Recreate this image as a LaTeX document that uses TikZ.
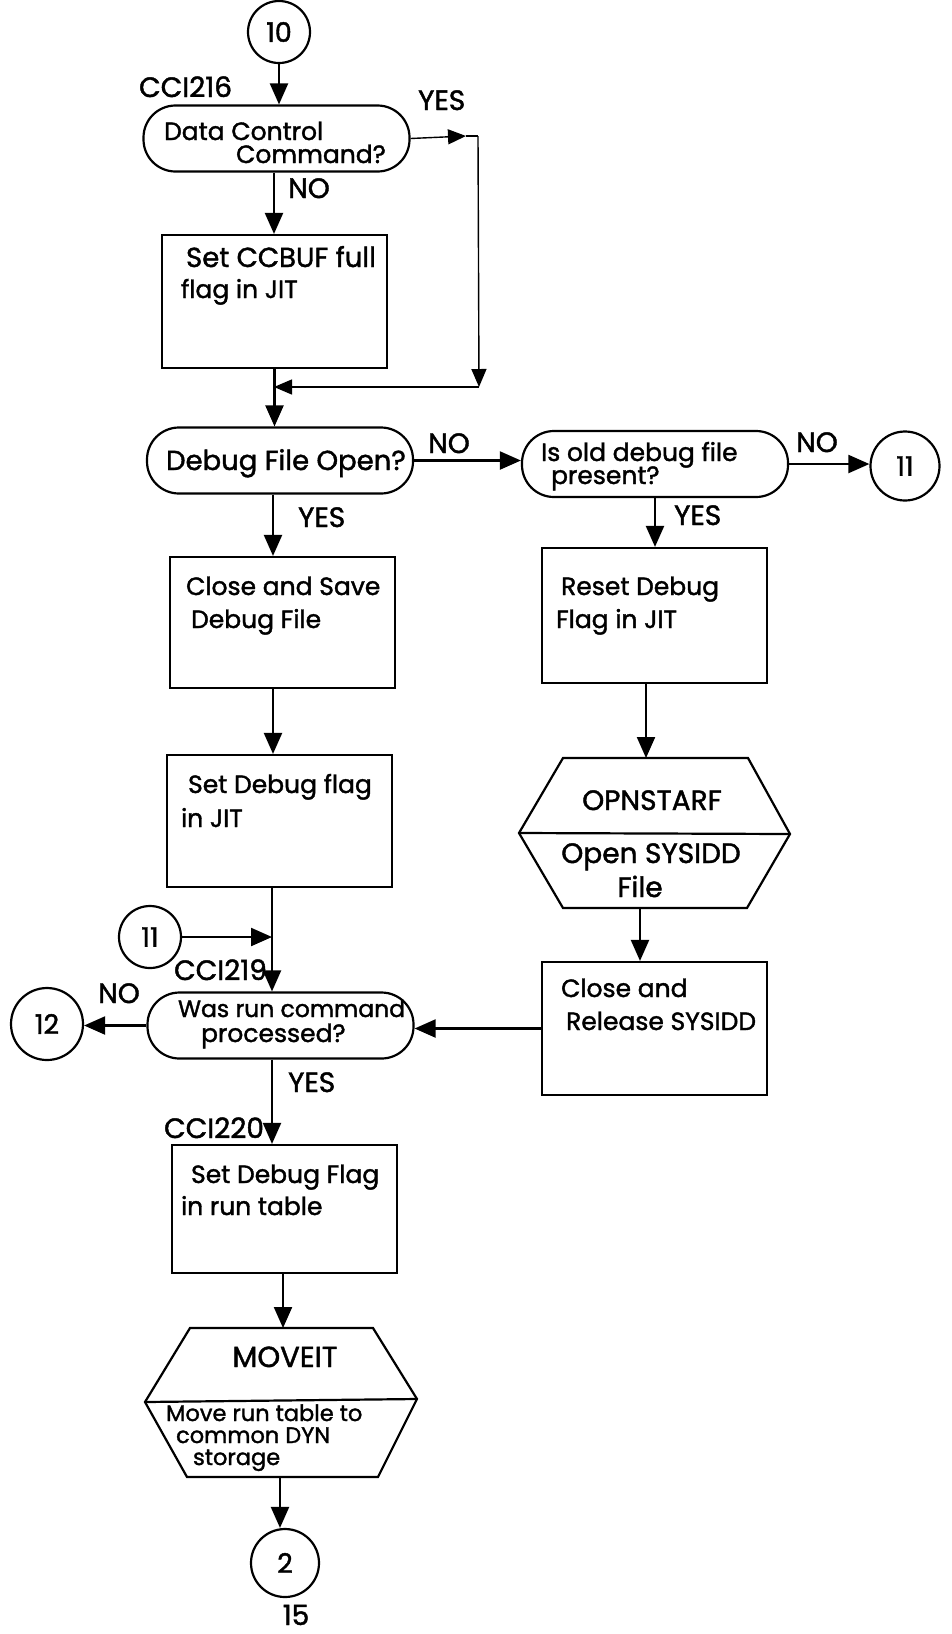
\documentclass[tikz,border=0pt]{standalone}
\usepackage{fontspec}
\setmainfont{Poppins}[FakeBold=1.5]
\usetikzlibrary{arrows.meta}
\begin{document}
\begin{tikzpicture}[x=1pt,y=-1pt,
  line width=2.2pt,
  arr/.style={-{Triangle[length=21pt,width=18pt]}},
  thin arr/.style={line width=1.4pt,-{Triangle[length=18pt,width=15pt]}},
  txt/.style={inner sep=0pt, anchor=base west, font=\fontsize{25}{28}\selectfont},
  big/.style={font=\fontsize{28}{30}\selectfont},
  smalltxt/.style={inner sep=0pt, anchor=base west, font=\fontsize{22.5}{25}\selectfont},
  ctxt/.style={inner sep=0pt, anchor=base, font=\fontsize{28}{30}\selectfont},
  proc/.style={draw, rectangle, minimum width=225pt, inner sep=0pt},
  dec/.style={draw, rounded corners=32pt, minimum width=266pt, minimum height=66pt, inner sep=0pt},
  conn/.style={draw, circle, inner sep=0pt, font=\fontsize{27}{30}\selectfont},
  hexline/.style={line width=2.2pt, line join=miter},
]
\useasboundingbox (0,0) rectangle (951,1634);

% ---------- top ----------
\node[conn, minimum size=62pt] (c10) at (279,32) {10};
\node[txt, big] (cci216) at (138,97) {CCI216};
\node[dec] (d1) at (276.5,138.5) {};
\node[txt] (d1a) at (163,140) {Data Control};
\node[txt] (d1b) at (235,163) {Command?};
\node[txt, big] (yes1) at (417,110) {YES};
\node[txt, big] (no1) at (287,198) {NO};

\node[proc, minimum height=133pt] (b1) at (274.5,301.5) {};
\node[txt, font=\fontsize{27.5}{30}\selectfont] (b1a) at (185,267) {Set CCBUF full};
\node[txt] (b1b) at (180,298) {flag in JIT};

\coordinate (yt) at (466,136);
\coordinate (yc) at (478,136);
\coordinate (mc) at (479,387);
\coordinate (mg) at (274,387);
\coordinate (colL) at (273,0);
\coordinate (j11) at (272,937);
\coordinate (colB) at (283,0);
\coordinate (colC) at (280,0);

\draw[arr] (c10.south) -- (c10.south |- d1.north);
\draw[arr] (d1.south -| mg) -- (b1.north -| mg);
\draw[thin arr] (d1.east) -- (yt);
\draw[line width=1.4pt] (yt) -- (yc);
\draw[thin arr] (yc) -- (mc);
\draw[thin arr] (mc) -- (mg);

% ---------- second row ----------
\node[dec] (d2) at (280,460.5) {};
\node[txt, font=\fontsize{27.5}{30}\selectfont] (d2a) at (165,470) {Debug File Open?};
\node[txt, big] (no2) at (427,453) {NO};
\node[txt, big] (yes2) at (297,527) {YES};
\draw[arr] (b1.south) -- (b1.south |- d2.north);

\node[dec] (dR) at (655,464) {};
\node[txt] (dRa) at (540,461) {Is old debug file};
\node[txt] (dRb) at (550,484) {present?};
\node[txt, big] (no3) at (795,452) {NO};
\node[txt, big] (yes3) at (673,525) {YES};
\node[conn, minimum size=69pt] (c11R) at (905,466) {11};

\draw[arr] (d2.east) -- (d2.east -| dR.west);
\draw[arr] (dR.east) -- (dR.east -| c11R.west);

% ---------- left column ----------
\node[proc, minimum height=131pt] (b2) at (282.5,622.5) {};
\node[txt] (b2a) at (185,595) {Close and Save};
\node[txt] (b2b) at (190,628) {Debug File};
\draw[arr] (d2.south -| colL) -- (b2.north -| colL);

\node[proc, minimum height=132pt] (b3) at (279.5,821) {};
\node[txt] (b3a) at (187,793) {Set Debug flag};
\node[txt] (b3b) at (180,827) {in JIT};
\draw[arr] (b2.south -| colL) -- (b3.north -| colL);

\node[conn, minimum size=62pt] (c11L) at (150,937) {11};
\draw (b3.south -| j11) -- (j11);
\draw[arr] (c11L.east) -- (j11);

\node[txt, big] (cci219) at (173,980) {CCI219};
\node[dec] (d3) at (280.5,1025.5) {};
\node[txt, font=\fontsize{23.5}{26}\selectfont] (d3a) at (177,1017) {Was run command};
\node[txt] (d3b) at (200,1042) {processed?};
\node[txt, big] (no4) at (97,1003) {NO};
\node[txt, big] (yes4) at (287,1092) {YES};
\node[conn, minimum size=72pt] (c12) at (47,1024) {12};
\draw[arr] (j11) -- (j11 |- d3.north);
\draw[arr] (d3.west) -- (d3.west -| c12.east);

\node[txt, big] (cci220) at (163,1138) {CCI220};
\node[proc, minimum height=128pt] (b4) at (284.5,1209) {};
\node[txt] (b4a) at (190,1183) {Set Debug Flag};
\node[txt] (b4b) at (180,1215) {in run table};
\draw[arr] (d3.south -| j11) -- (b4.north -| j11);

% bottom hexagon (MOVEIT)
\coordinate (hB) at (281,1402);
\coordinate (hBn) at (281,1328);
\coordinate (hBs) at (281,1477);
\coordinate (hBw) at (145,1402);
\coordinate (hBe) at (417,1399);
\draw[hexline] (190,1328) -- (373,1328) -- (hBe) -- (378,1477) -- (187,1477) -- (hBw) -- cycle;
\draw (hBw) -- (hBe);
\node[ctxt, font=\fontsize{29}{30}\selectfont] (hBa) at (285,1367) {MOVEIT};
\node[smalltxt] (hBb) at (165,1421) {Move run table to};
\node[smalltxt] (hBc) at (175,1443) {common DYN};
\node[smalltxt] (hBd) at (192,1465) {storage};
\draw[arr] (b4.south -| colB) -- (hBn -| colB);

\node[conn, minimum size=68pt] (c2) at (285,1563) {2};
\draw[arr] (hBs -| colC) -- (c2.north -| colC);
\node[ctxt] (page) at (296,1625) {15};

% ---------- right column ----------
\node[proc, minimum height=135pt] (bR1) at (654.5,615.5) {};
\node[txt] (bR1a) at (560,595) {Reset Debug};
\node[txt] (bR1b) at (555,628) {Flag in JIT};
\draw[arr] (dR.south) -- (dR.south |- bR1.north);

% right hexagon (OPNSTARF)
\coordinate (hR) at (655,833);
\coordinate (hRn) at (655,758);
\coordinate (hRs) at (655,908);
\coordinate (hRw) at (519,833);
\coordinate (hRe) at (790,834);
\draw[hexline] (563,758) -- (748,758) -- (hRe) -- (747,908) -- (563,908) -- (hRw) -- cycle;
\draw (hRw) -- (hRe);
\node[ctxt] (hRa) at (652,810) {OPNSTARF};
\node[ctxt] (hRb) at (651,863) {Open SYSIDD};
\node[ctxt] (hRc) at (640,897) {File};
\draw[arr] (bR1.south -| 646,0) -- (hRn -| 646,0);

\node[proc, minimum height=133pt] (bR2) at (654.5,1028.5) {};
\node[txt] (bR2a) at (560,997) {Close and};
\node[txt] (bR2b) at (565,1030) {Release SYSIDD};
\draw[arr] (hRs -| hRc) -- (bR2.north -| hRc);
\draw[arr] (bR2.west) -- (bR2.west -| d3.east);
\end{tikzpicture}
\end{document}
